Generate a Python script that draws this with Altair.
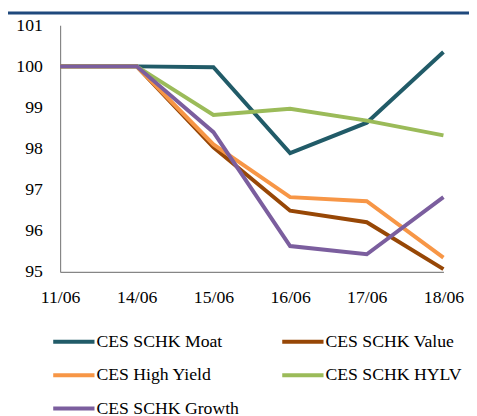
import altair as alt
import pandas as pd

dates = ["11/06", "14/06", "15/06", "16/06", "17/06", "18/06"]
series_names = ["CES SCHK Moat", "CES SCHK Value", "CES High Yield", "CES SCHK HYLV", "CES SCHK Growth"]
moat = [100, 100, 99.98, 97.89, 98.63, 100.35]
value = [100, 100, 98.03, 96.49, 96.21, 95.07]
high_yield = [100, 100, 98.10, 96.82, 96.72, 95.35]
hylv = [100, 100, 98.82, 98.97, 98.68, 98.32]
growth = [100, 100, 98.40, 95.63, 95.43, 96.82]
colors = ["#215B68", "#974706", "#F79646", "#9BBB59", "#7B5E9E"]
y_ticks = [95, 96, 97, 98, 99, 100, 101]
title_text = "11/6/2021-18/6/2021"

rows = []
for name, vals in zip(series_names, [moat, value, high_yield, hylv, growth]):
    for d, v in zip(dates, vals):
        rows.append({"date": d, "series": name, "value": v})
df = pd.DataFrame(rows)

FONT = "Liberation Serif, serif"

lines = alt.Chart(df).mark_line(strokeWidth=4, clip=False).encode(
    x=alt.X("date:N", sort=dates, title=None,
            scale=alt.Scale(type="point", padding=0),
            axis=alt.Axis(labelAngle=0, ticks=False, labelPadding=17,
                          domainColor="#868686", domainWidth=1.2,
                          labelFont=FONT, labelFontSize=18, labelColor="black")),
    y=alt.Y("value:Q", title=None,
            scale=alt.Scale(domain=[95, 101], nice=False, zero=False),
            axis=alt.Axis(values=y_ticks, ticks=False, labelPadding=18, grid=False,
                          domainColor="#868686", domainWidth=1.2,
                          labelFont=FONT, labelFontSize=18, labelColor="black")),
    color=alt.Color("series:N", sort=series_names,
                    scale=alt.Scale(domain=series_names, range=colors),
                    legend=alt.Legend(title=None, orient="none", legendX=-9, legendY=299,
                                      direction="horizontal",
                                      columns=2, columnPadding=35, rowPadding=2,
                                      symbolType="stroke", symbolSize=1764,
                                      symbolStrokeWidth=4, labelOffset=0,
                                      labelFont=FONT, labelFontSize=18, labelColor="black",
                                      labelLimit=300)),
    order=alt.Order("series_order:Q"),
).transform_calculate(
    series_order="indexof(%s, datum.series)" % str(series_names)
)

bar = alt.Chart(alt.Data(values=[{"t": title_text}])).mark_rect(color="#1F497D", clip=False).encode(
    x=alt.value(-53), x2=alt.value(416), y=alt.value(-14), y2=alt.value(-11)
)

chart = alt.layer(bar, lines).properties(
    width=390, height=251,
    title=alt.TitleParams(title_text, anchor="start", color="white", font=FONT,
                          fontSize=30, fontWeight="bold", offset=16, baseline="alphabetic",
                          dx=-51),
    padding={"left": 53, "top": 14, "right": 26, "bottom": 143},
    autosize=alt.AutoSizeParams(type="none"),
).configure(font=FONT).configure_view(stroke=None)

chart.save("out.html", embed_options={"renderer": "svg", "actions": False})
